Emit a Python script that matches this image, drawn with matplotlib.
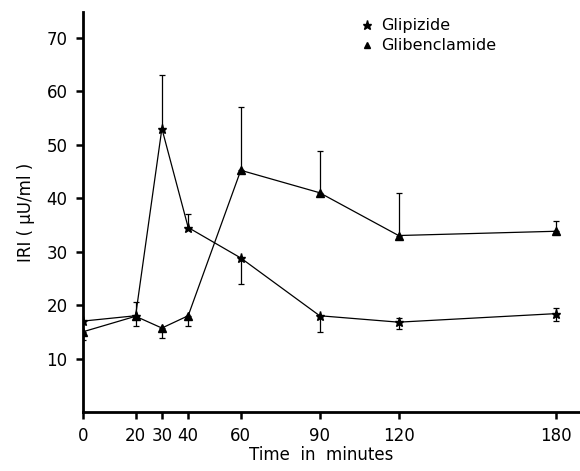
import matplotlib.pyplot as plt
from matplotlib.lines import Line2D

# Time points (minutes)
TIME = [0, 20, 30, 40, 60, 90, 120, 180]

# Glipizide: mean IRI and one-sided error bars
GLIPIZIDE = [17.0, 18.0, 53.0, 34.5, 28.8, 18.0, 16.8, 18.4]
GLIPIZIDE_LO = [0.0, 0.0, 0.0, 0.0, 4.8, 3.1, 1.2, 1.4]
GLIPIZIDE_HI = [0.0, 2.5, 10.0, 2.5, 0.0, 0.0, 0.8, 1.0]

# Glibenclamide
GLIBEN = [15.0, 17.9, 15.7, 18.0, 45.2, 41.0, 33.0, 33.8]
GLIBEN_LO = [1.6, 1.9, 1.8, 2.0, 0.0, 0.0, 0.0, 0.0]
GLIBEN_HI = [0.0, 0.0, 0.0, 0.0, 11.8, 7.8, 8.0, 1.9]

XTICKS = [0, 20, 30, 40, 60, 90, 120, 180]
YTICKS = [10, 20, 30, 40, 50, 60, 70]

plt.rcParams["font.family"] = ["DejaVu Sans"]

fig = plt.figure(figsize=(5.8, 4.71), dpi=100)
ax = fig.add_axes([83 / 580, 59 / 471, 497 / 580, 400 / 471])

ax.errorbar(TIME, GLIPIZIDE, yerr=[GLIPIZIDE_LO, GLIPIZIDE_HI],
            color="black", linewidth=0.9, marker="*", markersize=6.5,
            elinewidth=0.9, capsize=2.5, capthick=0.9)
ax.errorbar(TIME, GLIBEN, yerr=[GLIBEN_LO, GLIBEN_HI],
            color="black", linewidth=0.9, marker="^", markersize=5.5,
            elinewidth=0.9, capsize=2.5, capthick=0.9)

ax.set_xlim(0, 189)
ax.set_ylim(0, 74.8)
ax.set_xticks(XTICKS)
ax.set_yticks(YTICKS)
ax.tick_params(axis="both", direction="out", length=5, width=1.8,
               labelsize=12, pad=6)

for side in ["top", "right"]:
    ax.spines[side].set_visible(False)
for side in ["left", "bottom"]:
    ax.spines[side].set_linewidth(2)

ax.set_xlabel("Time  in  minutes", fontsize=12, labelpad=2)
ax.xaxis.set_label_coords(0.48, -0.085)
ax.set_ylabel("IRI ( μU/ml )", fontsize=12, labelpad=8)

handles = [
    Line2D([], [], color="black", linestyle="none", marker="*", markersize=6.5),
    Line2D([], [], color="black", linestyle="none", marker="^", markersize=5),
]
ax.legend(handles, ["Glipizide", "Glibenclamide"], loc="upper left",
          bbox_to_anchor=(0.53, 1.02), frameon=False, fontsize=11.5,
          handlelength=0.8, handletextpad=0.5, labelspacing=0.3)

fig.savefig("out.png", dpi=100)
